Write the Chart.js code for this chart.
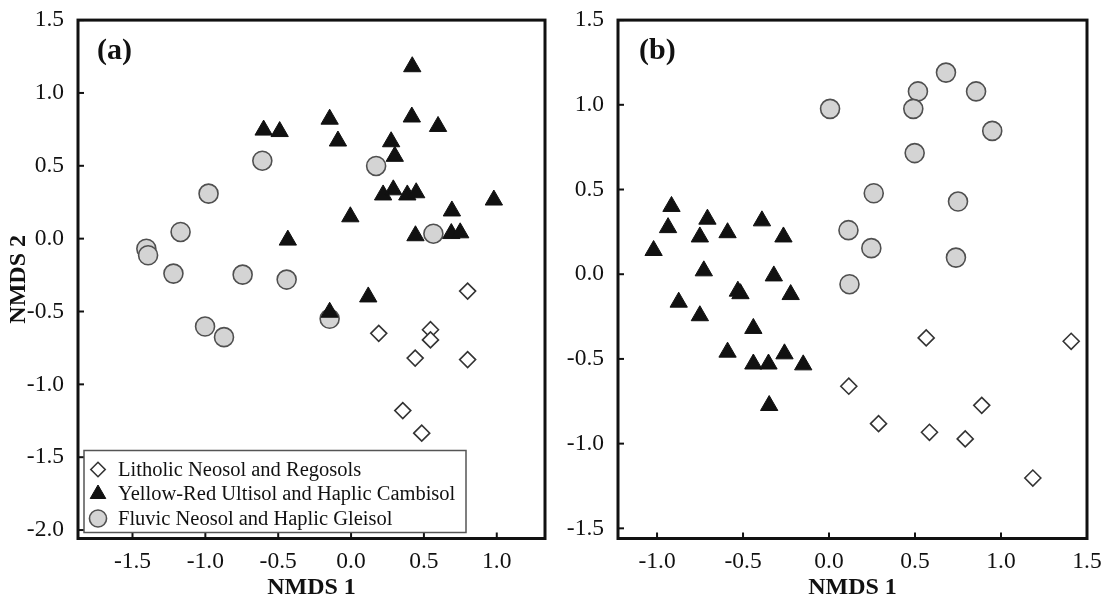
<!DOCTYPE html>
<html>
<head>
<meta charset="utf-8">
<script src="https://cdn.jsdelivr.net/npm/chart.js@4.4.1/dist/chart.umd.min.js"></script>
<style>
  html, body { margin: 0; padding: 0; background: #fff; }
  #wrap { position: relative; width: 1114px; height: 603px; overflow: hidden; }
  canvas { position: absolute; top: 0; }
</style>
</head>
<body>
<div id="wrap">
  <canvas id="chartA" width="557" height="603" style="left:0"></canvas>
  <canvas id="chartB" width="557" height="603" style="left:557px"></canvas>
</div>
<script>
const seriesNames = [
  'Litholic Neosol and Regosols',
  'Yellow-Red Ultisol and Haplic Cambisol',
  'Fluvic Neosol and Haplic Gleisol'
];

// panel (a)
const aLitholicX = [0.80, 0.19, 0.545, 0.545, 0.44, 0.80, 0.355, 0.485];
const aLitholicY = [-0.36, -0.65, -0.625, -0.695, -0.82, -0.83, -1.18, -1.335];

const aUltisolX = [0.42, -0.60, -0.49, -0.147, -0.09, 0.417, 0.597, 0.275, 0.30, 0.22, 0.29, 0.386,
  0.447, 0.98, 0.692, -0.005, -0.434, 0.442, 0.688, 0.749, 0.118, -0.147];
const aUltisolY = [1.18, 0.745, 0.735, 0.82, 0.67, 0.835, 0.77, 0.665, 0.565, 0.30, 0.335, 0.30,
  0.315, 0.265, 0.19, 0.15, -0.01, 0.02, 0.035, 0.04, -0.40, -0.505];

const aFluvicX = [-0.609, 0.172, -0.978, -1.17, -1.405, -1.393, -1.219, -0.744, -0.442, 0.565,
  -1.002, -0.872, -0.147];
const aFluvicY = [0.535, 0.499, 0.309, 0.046, -0.069, -0.114, -0.24, -0.247, -0.281, 0.034,
  -0.603, -0.676, -0.55];

// panel (b)
const bLitholicX = [0.565, 1.408, 0.115, 0.888, 0.288, 0.584, 0.792, 1.185];
const bLitholicY = [-0.376, -0.396, -0.661, -0.774, -0.882, -0.933, -0.972, -1.203];

const bUltisolX = [-0.916, -0.936, -1.02, -0.707, -0.751, -0.59, -0.39, -0.265, -0.728, -0.321,
  -0.874, -0.53, -0.515, -0.223, -0.751, -0.44, -0.59, -0.44, -0.352, -0.259, -0.15, -0.348];
const bUltisolY = [0.40, 0.275, 0.14, 0.325, 0.22, 0.245, 0.315, 0.22, 0.02, -0.01,
  -0.165, -0.10, -0.115, -0.12, -0.245, -0.32, -0.46, -0.53, -0.53, -0.47, -0.535, -0.775];

const bFluvicX = [0.006, 0.517, 0.68, 0.855, 0.49, 0.949, 0.498, 0.26, 0.75, 0.113, 0.246, 0.738, 0.119];
const bFluvicY = [0.976, 1.079, 1.19, 1.079, 0.976, 0.846, 0.715, 0.478, 0.429, 0.26, 0.154, 0.098, -0.059];

const tickStep = 0.5;

Chart.defaults.font.family = '"Liberation Serif", "Times New Roman", serif';
Chart.defaults.color = '#111';

function toPoints(xs, ys) {
  return xs.map((x, i) => ({ x: x, y: ys[i] }));
}

function makeDatasets(litX, litY, ultX, ultY, fluX, fluY) {
  return [{
    label: seriesNames[0],
    data: toPoints(litX, litY),
    pointStyle: 'rectRot',
    pointRadius: 8,
    pointHoverRadius: 8,
    backgroundColor: '#ffffff',
    borderColor: '#333333',
    borderWidth: 1.6
  }, {
    label: seriesNames[1],
    data: toPoints(ultX, ultY),
    pointStyle: 'triangle',
    pointRadius: 10,
    pointHoverRadius: 10,
    backgroundColor: '#111111',
    borderColor: '#111111',
    borderWidth: 1
  }, {
    label: seriesNames[2],
    data: toPoints(fluX, fluY),
    pointStyle: 'circle',
    pointRadius: 9.5,
    pointHoverRadius: 9.5,
    backgroundColor: '#d4d4d4',
    borderColor: '#505050',
    borderWidth: 1.6
  }];
}

// box round the plot, inward ticks, panel letter
const framePlugin = {
  id: 'frame',
  beforeDatasetsDraw(chart, args, opts) {
    const { ctx, chartArea: a, scales } = chart;
    ctx.save();
    ctx.strokeStyle = '#111';
    ctx.lineWidth = 2;
    scales.x.ticks.forEach(t => {
      const px = scales.x.getPixelForValue(t.value);
      ctx.beginPath();
      ctx.moveTo(px, a.bottom);
      ctx.lineTo(px, a.bottom - 6);
      ctx.stroke();
    });
    scales.y.ticks.forEach(t => {
      const py = scales.y.getPixelForValue(t.value);
      ctx.beginPath();
      ctx.moveTo(a.left, py);
      ctx.lineTo(a.left + 6, py);
      ctx.stroke();
    });
    ctx.lineWidth = 3;
    ctx.strokeRect(a.left, a.top, a.right - a.left, a.bottom - a.top);
    ctx.fillStyle = '#111';
    ctx.font = 'bold 30px "Liberation Serif", serif';
    ctx.textBaseline = 'middle';
    ctx.textAlign = 'left';
    ctx.fillText(opts.letter, a.left + opts.dx, a.top + 31);
    ctx.restore();
  }
};

// legend box in lower-left corner of panel (a)
const boxLegendPlugin = {
  id: 'boxLegend',
  afterDatasetsDraw(chart, args, opts) {
    if (!opts.show) return;
    const { ctx, chartArea: a } = chart;
    const left = a.left + 6, bottom = a.bottom - 6;
    const w = 382, h = 82, top = bottom - h;
    ctx.save();
    ctx.fillStyle = '#fff';
    ctx.fillRect(left, top, w, h);
    ctx.strokeStyle = '#555';
    ctx.lineWidth = 1.5;
    ctx.strokeRect(left, top, w, h);
    ctx.font = '20.5px "Liberation Serif", serif';
    ctx.textBaseline = 'middle';
    ctx.textAlign = 'left';
    chart.data.datasets.forEach((ds, i) => {
      const y = top + 19 + i * 24.5;
      ctx.fillStyle = ds.backgroundColor;
      ctx.strokeStyle = ds.borderColor;
      ctx.lineWidth = ds.borderWidth;
      Chart.helpers.drawPoint(ctx, {
        pointStyle: ds.pointStyle,
        radius: ds.pointRadius * 0.9,
        borderWidth: ds.borderWidth,
        rotation: 0
      }, left + 14, y);
      ctx.fillStyle = '#111';
      ctx.fillText(ds.label, left + 34, y + 1);
    });
    ctx.restore();
  }
};

function makePanel(id, datasets, cfg) {
  return new Chart(document.getElementById(id), {
    type: 'scatter',
    data: { datasets: datasets },
    plugins: [framePlugin, boxLegendPlugin],
    options: {
      responsive: false,
      animation: false,
      devicePixelRatio: 1,
      layout: { padding: { top: 19, right: cfg.padRight, left: 0, bottom: 0 } },
      plugins: {
        legend: { display: false },
        tooltip: { enabled: false },
        frame: { letter: cfg.letter, dx: cfg.letterDx },
        boxLegend: { show: cfg.legend }
      },
      scales: {
        x: {
          type: 'linear',
          min: cfg.xMin,
          max: cfg.xMax,
          border: { display: false },
          grid: { display: false },
          afterFit: s => { s.height = 64.5; },
          ticks: {
            stepSize: tickStep,
            includeBounds: false,
            autoSkip: false,
            maxRotation: 0,
            padding: 1,
            font: { size: 23.5 },
            callback: v => Number(v).toFixed(1)
          },
          title: {
            display: true,
            text: 'NMDS 1',
            font: { size: 24, weight: 'bold' },
            padding: { top: 0, bottom: 1 }
          }
        },
        y: {
          type: 'linear',
          min: cfg.yMin,
          max: cfg.yMax,
          border: { display: false },
          grid: { display: false },
          afterFit: s => { s.width = cfg.yWidth; },
          ticks: {
            stepSize: tickStep,
            includeBounds: false,
            autoSkip: false,
            padding: 6,
            font: { size: 23.5 },
            callback: v => Number(v).toFixed(1)
          },
          title: {
            display: cfg.yTitle,
            text: 'NMDS 2',
            font: { size: 24, weight: 'bold' },
            padding: { top: 4, bottom: 0 }
          }
        }
      }
    }
  });
}

makePanel('chartA', makeDatasets(aLitholicX, aLitholicY, aUltisolX, aUltisolY, aFluvicX, aFluvicY), {
  xMin: -1.874, xMax: 1.331, yMin: -2.058, yMax: 1.5,
  yWidth: 78, padRight: 12, letter: '(a)', letterDx: 19, legend: true, yTitle: true
});

makePanel('chartB', makeDatasets(bLitholicX, bLitholicY, bUltisolX, bUltisolY, bFluvicX, bFluvicY), {
  xMin: -1.227, xMax: 1.5, yMin: -1.56, yMax: 1.5,
  yWidth: 61, padRight: 27, letter: '(b)', letterDx: 21, legend: false, yTitle: false
});
</script>
</body>
</html>
